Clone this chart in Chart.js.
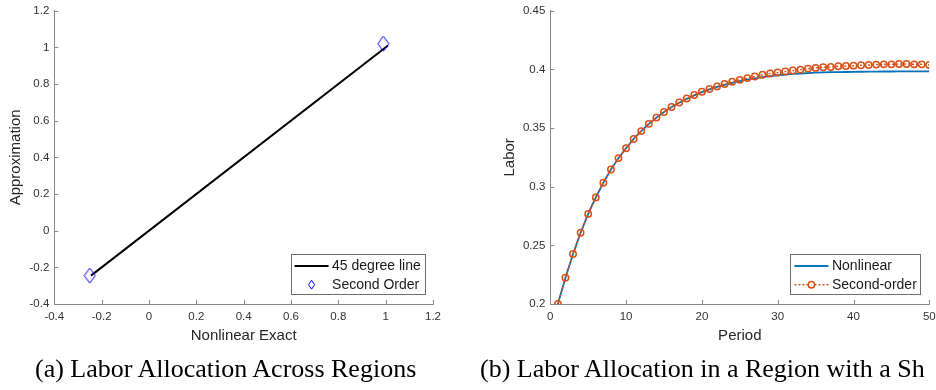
<!DOCTYPE html>
<html>
<head>
<meta charset="utf-8">
<script src="https://cdn.jsdelivr.net/npm/chart.js@4.4.1/dist/chart.umd.min.js"></script>
<style>
html, body { margin: 0; padding: 0; background: #fff; overflow: hidden; width: 936px; height: 390px; }
#wrap { position: relative; width: 936px; height: 390px; overflow: hidden; }
#wrap canvas { position: absolute; top: 0; }
.cap { position: absolute; top: 355.5px; font: 26px "Liberation Serif", "Times New Roman", serif; line-height: 26px; color: #000; white-space: nowrap; }
</style>
</head>
<body>
<div id="wrap">
  <canvas id="c-cross" width="470" height="390" style="left:0"></canvas>
  <canvas id="c-region" width="500" height="390" style="left:470px"></canvas>
  <div class="cap" style="left:35px">(a) Labor Allocation Across Regions</div>
  <div class="cap" style="left:480px">(b) Labor Allocation in a Region with a Sh</div>
</div>
<script>
// ---- Panel (a) : regions, exact vs approximation ----
const lineExact   = [-0.245, 1.01];
const lineApprox  = [-0.245, 1.01];
const soExact     = [-0.25, 0.99];
const soApprox    = [-0.245, 1.02];
const ticksA      = [-0.4, -0.2, 0, 0.2, 0.4, 0.6, 0.8, 1, 1.2];

// ---- Panel (b) : labor path after the shock ----
const periods = [1,2,3,4,5,6,7,8,9,10,11,12,13,14,15,16,17,18,19,20,21,22,23,24,25,
                 26,27,28,29,30,31,32,33,34,35,36,37,38,39,40,41,42,43,44,45,46,47,48,49,50];
const nonlinear = [0.2000,0.2224,0.2426,0.2608,0.2768,0.2908,0.3034,0.3146,0.3244,0.3328,
                   0.3407,0.3474,0.3536,0.3589,0.3637,0.3679,0.3716,0.3749,0.3778,0.3806,
                   0.3830,0.3851,0.3869,0.3885,0.3900,0.3913,0.3924,0.3934,0.3942,0.3950,
                   0.3956,0.3961,0.3965,0.3969,0.3972,0.3974,0.3976,0.3977,0.3978,0.3979,
                   0.3980,0.3981,0.3981,0.3982,0.3982,0.3983,0.3983,0.3983,0.3984,0.3984];
const secondOrder = [0.2000,0.2224,0.2426,0.2608,0.2768,0.2908,0.3034,0.3146,0.3244,0.3328,
                     0.3407,0.3474,0.3536,0.3589,0.3637,0.3679,0.3718,0.3752,0.3782,0.3810,
                     0.3833,0.3855,0.3875,0.3895,0.3911,0.3926,0.3940,0.3954,0.3965,0.3973,
                     0.3982,0.3990,0.3998,0.4007,0.4013,0.4018,0.4021,0.4027,0.4029,0.4032,
                     0.4035,0.4038,0.4041,0.4043,0.4043,0.4046,0.4046,0.4043,0.4043,0.4038];
const ticksBx = [0, 10, 20, 30, 40, 50];
const ticksBy = [0.2, 0.25, 0.3, 0.35, 0.4, 0.45];

const FAM = '"Liberation Sans", Arial, sans-serif';
const AXIS = '#8a8a8a', TXT = '#333';
const tickFont  = { family: FAM, size: 11.5, lineHeight: 1 };
const titleFont = { family: FAM, size: 15, lineHeight: 1.2 };
const fmt = v => String(Math.round(v * 100) / 100);

// MATLAB style : ticks pointing inward, no box on top/right
const inwardTicks = { id: 'inwardTicks', afterDatasetsDraw(chart) {
  const { ctx, chartArea: a, scales: { x, y } } = chart;
  ctx.save();
  ctx.strokeStyle = AXIS; ctx.lineWidth = 1;
  ctx.beginPath();
  x.ticks.forEach(t => { const p = Math.round(x.getPixelForValue(t.value)) + 0.5; ctx.moveTo(p, a.bottom); ctx.lineTo(p, a.bottom - 4); });
  y.ticks.forEach(t => { const p = Math.round(y.getPixelForValue(t.value)) + 0.5; ctx.moveTo(a.left, p); ctx.lineTo(a.left + 4, p); });
  ctx.stroke();
  ctx.restore();
}};

// Boxed legend in the lower right corner of the plot area
const boxLegend = { id: 'boxLegend', afterDraw(chart, args, o) {
  const { ctx, chartArea: a } = chart;
  ctx.save();
  ctx.font = '14px ' + FAM;
  const tw = Math.max(...o.items.map(it => ctx.measureText(it.label).width));
  const w = 41.5 + tw + 3.5, h = 40;
  const x0 = a.right - o.dx - w, y0 = a.bottom - o.dy - h;
  ctx.fillStyle = '#fff'; ctx.fillRect(x0, y0, w, h);
  ctx.strokeStyle = '#6e6e6e'; ctx.lineWidth = 1;
  ctx.strokeRect(Math.round(x0) + 0.5, Math.round(y0) + 0.5, Math.round(w), Math.round(h));
  o.items.forEach((it, i) => {
    const cy = y0 + 11.7 + i * 18.7;
    if (it.line) {
      ctx.strokeStyle = it.color; ctx.lineWidth = it.width; ctx.setLineDash(it.dash || []);
      ctx.beginPath(); ctx.moveTo(x0 + 4, cy); ctx.lineTo(x0 + 38, cy); ctx.stroke();
      ctx.setLineDash([]);
    }
    const mx = x0 + 21;
    if (it.marker === 'diamond') {
      ctx.strokeStyle = it.color; ctx.lineWidth = 1;
      ctx.beginPath(); ctx.moveTo(mx, cy - 4.5); ctx.lineTo(mx + 3, cy); ctx.lineTo(mx, cy + 4.5); ctx.lineTo(mx - 3, cy); ctx.closePath(); ctx.stroke();
    } else if (it.marker === 'circle') {
      ctx.fillStyle = '#fff'; ctx.strokeStyle = it.color; ctx.lineWidth = 1.5;
      ctx.beginPath(); ctx.arc(mx, cy, 3.2, 0, Math.PI * 2); ctx.fill(); ctx.stroke();
    }
    ctx.fillStyle = '#1a1a1a'; ctx.textAlign = 'left'; ctx.textBaseline = 'middle';
    ctx.fillText(it.label, x0 + 41.5, cy + 0.5);
  });
  ctx.restore();
}};

// diamond marker, taller than wide like MATLAB's 'd'
const diamond = document.createElement('canvas');
diamond.width = 13; diamond.height = 17;
{ const g = diamond.getContext('2d');
  g.strokeStyle = '#0000ff'; g.lineWidth = 1;
  g.beginPath(); g.moveTo(6.5, 1); g.lineTo(12, 8.5); g.lineTo(6.5, 16); g.lineTo(1, 8.5); g.closePath(); g.stroke(); }

function axisScale(min, max, ticks, fit, title, isX) {
  return {
    type: 'linear', min, max,
    afterBuildTicks: s => { s.ticks = ticks.map(v => ({ value: v })); },
    afterFit: s => { if (isX) s.height = fit; else s.width = fit; },
    grid: { drawOnChartArea: false, drawTicks: false },
    border: { display: true, color: AXIS, width: 1 },
    ticks: { autoSkip: false, maxRotation: 0, padding: isX ? 7 : 5, color: TXT, font: tickFont, callback: v => fmt(v) },
    title: { display: true, text: title, color: '#262626', font: titleFont, padding: 0 },
  };
}

Chart.defaults.animation = false;

new Chart(document.getElementById('c-cross'), {
  type: 'scatter',
  data: { datasets: [
    { label: '45 degree line', data: lineExact.map((v, i) => ({ x: v, y: lineApprox[i] })),
      showLine: true, borderColor: '#000', borderWidth: 2, pointRadius: 0, order: 1 },
    { label: 'Second Order', data: soExact.map((v, i) => ({ x: v, y: soApprox[i] })),
      pointStyle: diamond, pointRadius: 7, order: 0 },
  ]},
  options: {
    responsive: false,
    layout: { padding: { left: 7, top: 6, right: 37, bottom: 45 } },
    plugins: {
      legend: { display: false }, tooltip: { enabled: false },
      boxLegend: { dx: 8.7, dy: 9.7, items: [
        { label: '45 degree line', line: true, color: '#000', width: 2 },
        { label: 'Second Order', marker: 'diamond', color: '#0000ff' },
      ]},
    },
    scales: {
      x: axisScale(-0.4, 1.2, ticksA, 41, 'Nonlinear Exact', true),
      y: axisScale(-0.4, 1.2, ticksA, 47.3, 'Approximation', false),
    },
  },
  plugins: [inwardTicks, boxLegend],
});

new Chart(document.getElementById('c-region'), {
  type: 'line',
  data: { datasets: [
    { label: 'Nonlinear', data: periods.map((p, i) => ({ x: p, y: nonlinear[i] })),
      borderColor: '#0072BD', borderWidth: 1.8, pointRadius: 0, tension: 0, order: 1 },
    { label: 'Second-order', data: periods.map((p, i) => ({ x: p, y: secondOrder[i] })),
      borderColor: '#D95319', borderWidth: 1.5, borderDash: [2, 2], tension: 0,
      pointRadius: 3.2, pointBorderWidth: 1.5, pointBorderColor: '#D95319', pointBackgroundColor: 'rgba(0,0,0,0)', order: 0 },
  ]},
  options: {
    responsive: false,
    layout: { padding: { left: 30.5, top: 6.7, right: 40.7, bottom: 45 } },
    plugins: {
      legend: { display: false }, tooltip: { enabled: false },
      boxLegend: { dx: 9, dy: 9.7, items: [
        { label: 'Nonlinear', line: true, color: '#0072BD', width: 1.8 },
        { label: 'Second-order', line: true, dash: [2, 2], color: '#D95319', width: 1.5, marker: 'circle' },
      ]},
    },
    scales: {
      x: axisScale(0, 50, ticksBx, 41, 'Period', true),
      y: axisScale(0.2, 0.45, ticksBy, 49.8, 'Labor', false),
    },
  },
  plugins: [inwardTicks, boxLegend],
});
</script>
</body>
</html>
